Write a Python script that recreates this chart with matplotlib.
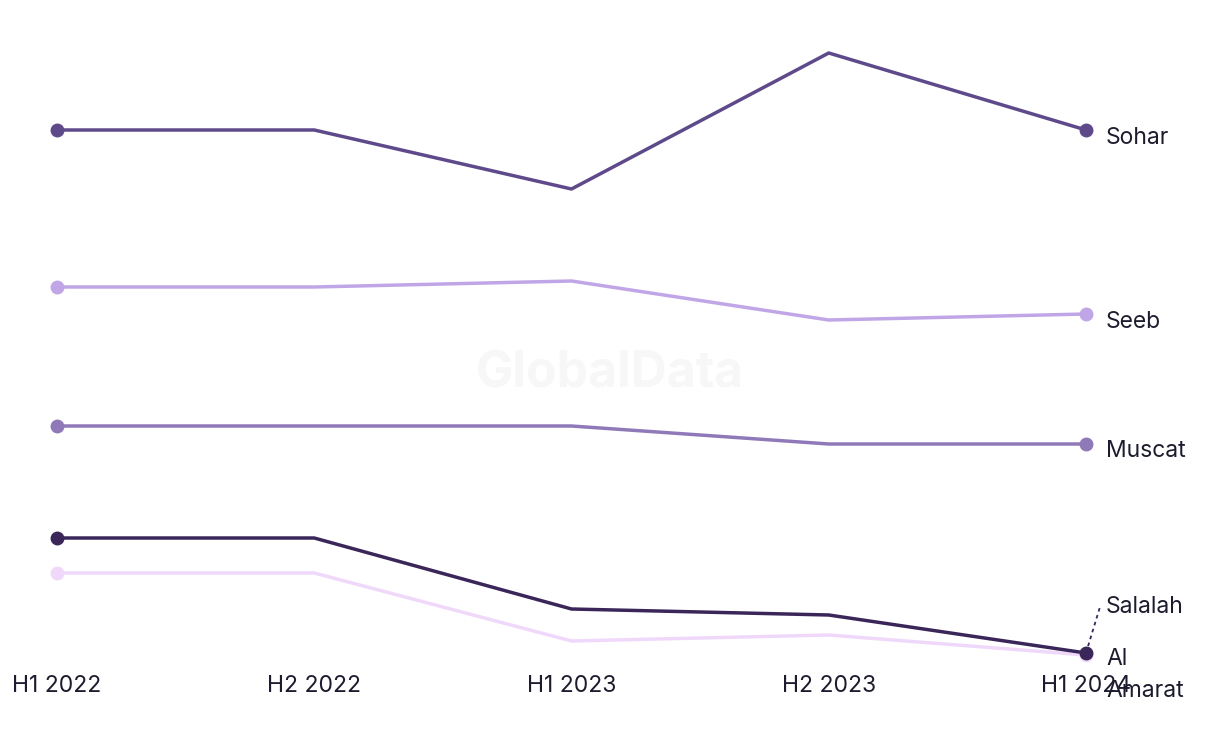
import matplotlib.pyplot as plt

periods = ["H1 2022", "H2 2022", "H1 2023", "H2 2023", "H1 2024"]
sohar = [57.0, 57.0, 51.1, 64.7, 57.0]
seeb = [41.3, 41.3, 41.9, 38.0, 38.6]
muscat = [27.4, 27.4, 27.4, 25.6, 25.6]
salalah = [16.2, 16.2, 9.1, 8.5, 4.7]
al_amarat = [12.7, 12.7, 5.9, 6.5, 4.5]

series = [
    ("Al Amarat", al_amarat, "#f0d8fb"),
    ("Salalah", salalah, "#3b2659"),
    ("Muscat", muscat, "#9079b8"),
    ("Seeb", seeb, "#c0a6e6"),
    ("Sohar", sohar, "#5e4a8a"),
]

plt.rcParams['font.family'] = ['Inter', 'DejaVu Sans']

fig = plt.figure(figsize=(12.2, 7.44), dpi=100)
ax = fig.add_axes([0, 0, 1, 1])
ax.set_xlim(-0.2216, 4.521)
ax.set_ylim(-4.4, 70)
ax.axis("off")

ax.text(0.5, 0.497, "GlobalData", transform=ax.transAxes, ha="center", va="center",
        fontsize=36, fontweight="bold", color="#f7f7f7", zorder=0)

x = list(range(len(periods)))
for name, vals, col in series:
    ax.plot(x, vals, color=col, lw=2.5, solid_capstyle="round", zorder=2)
    ax.plot([x[0], x[-1]], [vals[0], vals[-1]], "o", color=col, ms=9, zorder=3)

txt = "#1c1c2e"
fs = 16.5
lx = 4 + 20 / 257.25
ax.text(lx, sohar[-1] - 0.8, "Sohar", ha="left", va="center", fontsize=fs, color=txt)
ax.text(lx, seeb[-1] - 0.8, "Seeb", ha="left", va="center", fontsize=fs, color=txt)
ax.text(lx, muscat[-1] - 0.7, "Muscat", ha="left", va="center", fontsize=fs, color=txt)
ax.text(lx, 9.3, "Salalah", ha="left", va="center", fontsize=fs, color=txt)
ax.text(lx, 5.2, "Al\nAmarat", ha="left", va="top", fontsize=fs, color=txt,
        linespacing=1.6)
ax.plot([4, 4 + 14 / 257.25], [salalah[-1], 9.3], ls=(0, (2, 2)), lw=1.3,
        color="#3b2659", zorder=1)

for xi, p in zip(x, periods):
    ax.text(xi, 1.4, p, ha="center", va="center", fontsize=fs, color=txt)

fig.savefig("out.png", dpi=100)
